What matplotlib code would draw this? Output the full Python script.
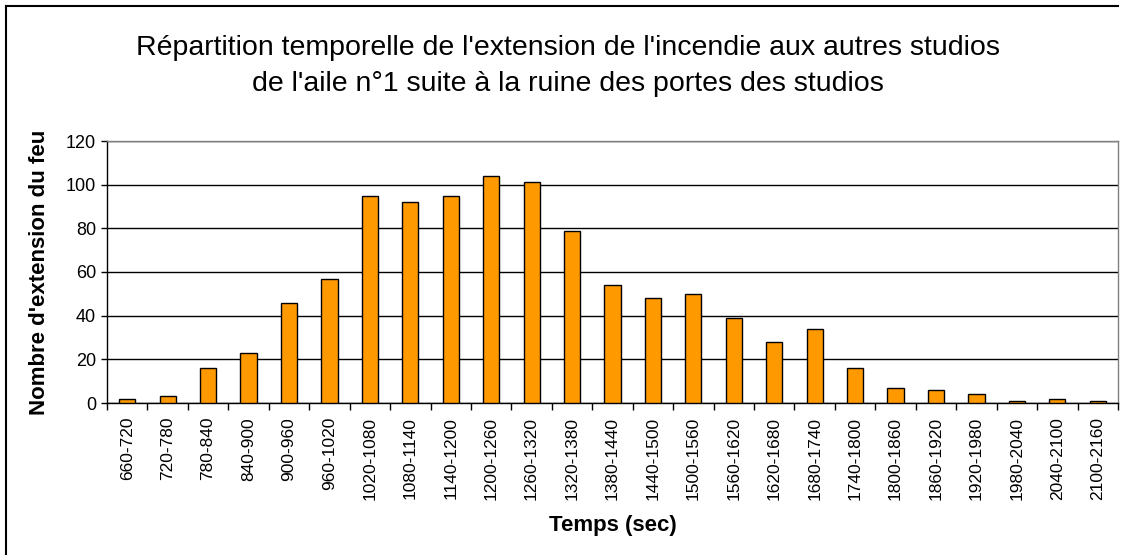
import numpy as np
import matplotlib
matplotlib.use('Agg')
import matplotlib.pyplot as plt
from matplotlib.lines import Line2D

plt.rcParams['font.family'] = ['Liberation Sans', 'DejaVu Sans']

tranches = ['660-720', '720-780', '780-840', '840-900', '900-960', '960-1020',
            '1020-1080', '1080-1140', '1140-1200', '1200-1260', '1260-1320',
            '1320-1380', '1380-1440', '1440-1500', '1500-1560', '1560-1620',
            '1620-1680', '1680-1740', '1740-1800', '1800-1860', '1860-1920',
            '1920-1980', '1980-2040', '2040-2100', '2100-2160']
nb_extensions = [2, 3, 16, 23, 46, 57, 95, 92, 95, 104, 101, 79, 54, 48, 50,
                 39, 28, 34, 16, 7, 6, 4, 1, 2, 1]
graduations_y = [0, 20, 40, 60, 80, 100, 120]

fig = plt.figure(figsize=(11.23, 5.55), dpi=100)
ax = fig.add_axes([107 / 1123, 1 - 403 / 555, 1011 / 1123, 262 / 555])

x = np.arange(len(tranches))
ax.bar(x, nb_extensions, width=0.4, color='#FF9900', edgecolor='black',
       linewidth=1, zorder=3)

ax.set_xlim(-0.5, len(tranches) - 0.5)
ax.set_ylim(0, 120)
ax.set_yticks(graduations_y)
ax.set_yticklabels([str(v) for v in graduations_y], fontsize=13)
ax.yaxis.grid(True, color='black', linewidth=1, zorder=0)

# categories centrées, traits de graduation entre les catégories
ax.set_xticks(x)
ax.set_xticklabels(tranches, rotation=90, fontsize=12.5)
ax.tick_params(axis='x', length=0, pad=10)
ax.set_xticks(np.arange(len(tranches) + 1) - 0.5, minor=True)
ax.tick_params(axis='x', which='minor', length=5, width=1, color='black')
ax.tick_params(axis='y', length=4, width=1, color='black', pad=4)

ax.spines['left'].set_color('black')
ax.spines['bottom'].set_color('black')
ax.spines['top'].set_color('#808080')
ax.spines['right'].set_color('#808080')
for s in ax.spines.values():
    s.set_linewidth(1)

ax.set_xlabel('Temps (sec)', fontsize=16, fontweight='bold', labelpad=11)
ax.set_ylabel("Nombre d'extension du feu", fontsize=16, fontweight='bold',
              labelpad=11)

fig.text(568 / 1123, 1 - 66 / 555,
         "Répartition temporelle de l'extension de l'incendie aux autres studios\n"
         "de l'aile n°1 suite à la ruine des portes des studios",
         ha='center', va='center', fontsize=20.5, linespacing=1.5)

# cadre du graphique
fig.add_artist(Line2D([6 / 1123, 6 / 1123], [0, 1 - 6 / 555], color='black',
                      linewidth=1.5, transform=fig.transFigure))
fig.add_artist(Line2D([6 / 1123, 1118 / 1123], [1 - 6 / 555, 1 - 6 / 555],
                      color='black', linewidth=1.5, transform=fig.transFigure))

fig.savefig('out.png', dpi=100)
